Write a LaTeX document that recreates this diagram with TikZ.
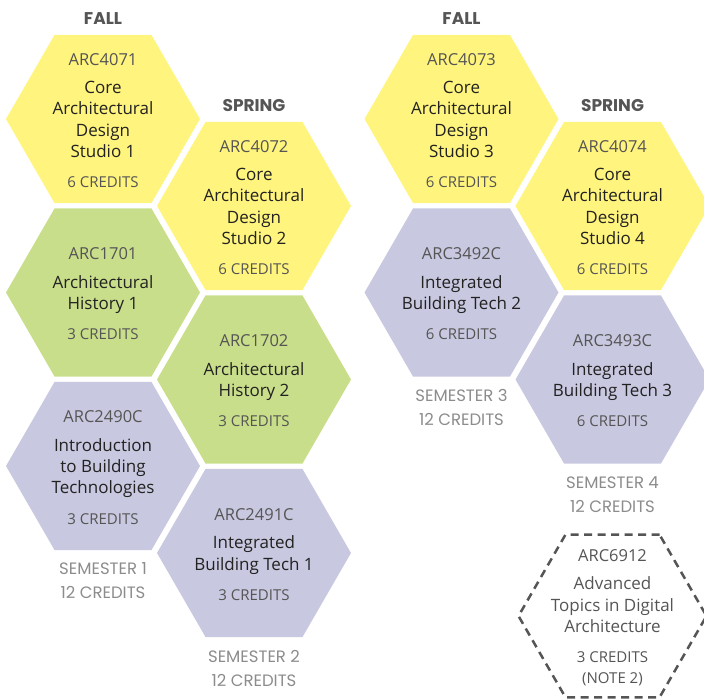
\documentclass[tikz,border=0pt]{standalone}
\usepackage{fontspec}
\setmainfont{Open Sans}
\newfontfamily\headfont{Poppins}
\usetikzlibrary{positioning,shapes.geometric}

\definecolor{studio}{HTML}{FFF47D}
\definecolor{history}{HTML}{C9DE8A}
\definecolor{tech}{HTML}{C8C8E0}
\definecolor{codegray}{HTML}{555555}
\definecolor{titlegray}{HTML}{222222}
\definecolor{semgray}{HTML}{8C8C8C}
\definecolor{headgray}{HTML}{555555}

\newcommand{\codetxt}[1]{{\color{codegray}\fontsize{16.5}{20}\selectfont #1}}
\newcommand{\credtxt}[1]{{\color{codegray}\fontsize{15}{18}\selectfont #1}}
\newcommand{\course}[3]{\codetxt{#1}\\[7pt] #2\\[9pt] \credtxt{#3}}

\begin{document}
\begin{tikzpicture}
 [x=1pt, y=-1pt, on grid,
  hexa/.style={regular polygon, regular polygon sides=6, minimum size=194pt, inner sep=0pt, outer sep=0pt},
  course/.style={align=center, inner sep=0pt, yshift=-1.5pt, text=titlegray, font=\fontsize{17}{21.3}\selectfont},
  head/.style={text=headgray, font=\headfont\bfseries\fontsize{17}{20}\selectfont},
  sem/.style={align=center, text=semgray, font=\headfont\fontsize{16.5}{24}\selectfont}]
 \useasboundingbox (0,0) rectangle (704,700);
 % years one and two, fall column then spring column
 \node (h4071) [hexa, fill=studio] at (103,119) {};
 \node (h1701) [below=173.5pt of h4071] [hexa, fill=history] {};
 \node (h2490) [below=173.5pt of h1701] [hexa, fill=tech] {};
 \node (h4072) [below right=87pt and 151pt of h4071] [hexa, fill=studio] {};
 \node (h1702) [below=173.5pt of h4072] [hexa, fill=history] {};
 \node (h2491) [below=173.5pt of h1702] [hexa, fill=tech] {};
 \node (h4073) [right=358.5pt of h4071] [hexa, fill=studio] {};
 \node (h3492) [below=173.5pt of h4073] [hexa, fill=tech] {};
 \node (h4074) [below right=87pt and 151pt of h4073] [hexa, fill=studio] {};
 \node (h3493) [below=173.5pt of h4074] [hexa, fill=tech] {};
 \node (h6912) [below=236.5pt of h3493] [hexa, minimum size=188pt, draw=codegray, line width=2.5pt, dash pattern=on 8pt off 5.5pt] {};
 \node (t4071) [course] at (h4071) {\course{ARC4071}{Core\\Architectural\\Design\\Studio 1}{6 CREDITS}};
 \node (t4072) [course] at (h4072) {\course{ARC4072}{Core\\Architectural\\Design\\Studio 2}{6 CREDITS}};
 \node (t1701) [course] at (h1701) {\course{ARC1701}{Architectural\\History 1}{3 CREDITS}};
 \node (t1702) [course] at (h1702) {\course{ARC1702}{Architectural\\History 2}{3 CREDITS}};
 \node (t2490) [course] at (h2490) {\course{ARC2490C}{Introduction\\to Building\\Technologies}{3 CREDITS}};
 \node (t2491) [course] at (h2491) {\course{ARC2491C}{Integrated\\Building Tech 1}{3 CREDITS}};
 \node (t4073) [course] at (h4073) {\course{ARC4073}{Core\\Architectural\\Design\\Studio 3}{6 CREDITS}};
 \node (t4074) [course] at (h4074) {\course{ARC4074}{Core\\Architectural\\Design\\Studio 4}{6 CREDITS}};
 \node (t3492) [course] at (h3492) {\course{ARC3492C}{Integrated\\Building Tech 2}{6 CREDITS}};
 \node (t3493) [course] at (h3493) {\course{ARC3493C}{Integrated\\Building Tech 3}{6 CREDITS}};
 \node (t6912) [course, text=codegray] at (h6912) {\course{ARC6912}{Advanced\\Topics in Digital\\Architecture}{3 CREDITS}\\[-1pt] \credtxt{(NOTE 2)}};
 \node (fall1) [head, above=100pt of h4071] {FALL};
 \node (spring1) [head, above=100pt of h4072] {SPRING};
 \node (fall2) [head, above=100pt of h4073] {FALL};
 \node (spring2) [head, above=100pt of h4074] {SPRING};
 \node (sem1) [sem, below=115pt of h2490] {SEMESTER 1\\12 CREDITS};
 \node (sem2) [sem, below=115pt of h2491] {SEMESTER 2\\12 CREDITS};
 \node (sem3) [sem, below=115pt of h3492] {SEMESTER 3\\12 CREDITS};
 \node (sem4) [sem, below=115pt of h3493] {SEMESTER 4\\12 CREDITS};
\end{tikzpicture}
\end{document}
